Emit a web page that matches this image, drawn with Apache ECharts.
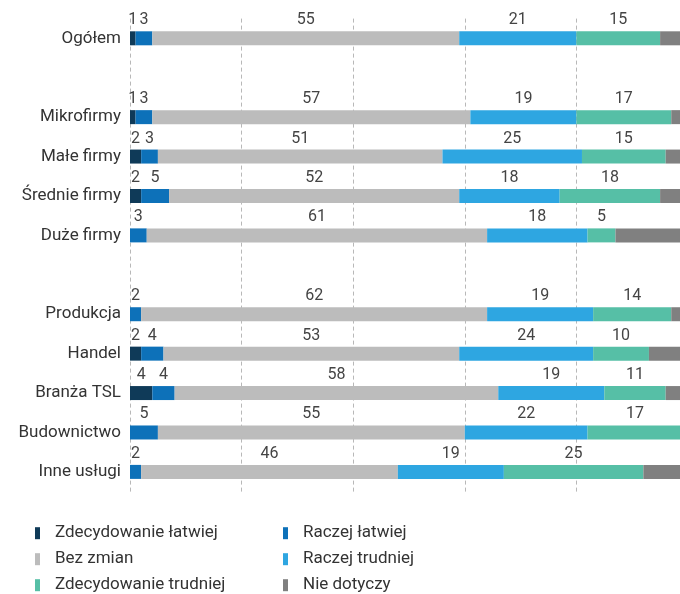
<!DOCTYPE html>
<html>
<head>
<meta charset="utf-8">
<script src="https://cdn.jsdelivr.net/npm/echarts@6/dist/echarts.min.js"></script>
<style>
html,body{margin:0;padding:0;background:#fff;}
#chart{width:680px;height:594px;}
</style>
</head>
<body>
<div id="chart"></div>
<script>
const categories = ['Ogółem', ' ', 'Mikrofirmy', 'Małe firmy', 'Średnie firmy', 'Duże firmy', '  ', 'Produkcja', 'Handel', 'Branża TSL', 'Budownictwo', 'Inne usługi'];
const seriesNames = ['Zdecydowanie łatwiej', 'Raczej łatwiej', 'Bez zmian', 'Raczej trudniej', 'Zdecydowanie trudniej', 'Nie dotyczy'];
const zdecydowanieLatwiej = [1, null, 1, 2, 2, 0, null, 0, 2, 4, 0, 0];
const raczejLatwiej      = [3, null, 3, 3, 5, 3, null, 2, 4, 4, 5, 2];
const bezZmian           = [55, null, 57, 51, 52, 61, null, 62, 53, 58, 55, 46];
const raczejTrudniej     = [21, null, 19, 25, 18, 18, null, 19, 24, 19, 22, 19];
const zdecydowanieTrudniej = [15, null, 17, 15, 18, 5, null, 14, 10, 11, 17, 25];
const nieDotyczy         = [5, null, 3, 4, 5, 13, null, 3, 7, 4, 1, 8];
const values = [zdecydowanieLatwiej, raczejLatwiej, bezZmian, raczejTrudniej, zdecydowanieTrudniej, nieDotyczy];
const colors = ['#0f3a58', '#0d71b9', '#bcbcbc', '#2ea6e1', '#56bfa6', '#808080'];

const chart = echarts.init(document.getElementById('chart'), null, {renderer: 'canvas'});
const font = 'Roboto';

const series = seriesNames.map((name, i) => ({
  name: name,
  type: 'bar',
  stack: 'total',
  barWidth: 14,
  itemStyle: {color: colors[i]},
  label: {
    show: i < 5,
    position: 'top',
    distance: 3,
    color: '#444',
    fontFamily: font,
    fontSize: 16,
    formatter: p => (p.value ? String(p.value) : '')
  },
  emphasis: {disabled: true},
  data: values[i].map(v => (v === 0 ? null : v))
}));

const legendText = {color: '#333', fontFamily: font, fontSize: 17, lineHeight: 15, padding: [0, 0, 0, 10]};

chart.setOption({
  animation: false,
  color: colors,
  grid: {left: 130, width: 558, top: 18.6, height: 473, containLabel: false, outerBoundsMode: 'none'},
  xAxis: {
    type: 'value', min: 0, max: 100, interval: 20,
    axisLabel: {show: false},
    axisLine: {show: false},
    axisTick: {show: false},
    splitLine: {show: true, lineStyle: {color: '#b8b8b8', type: [4, 3], width: 1}}
  },
  yAxis: {
    type: 'category', inverse: true, data: categories,
    axisLine: {show: false},
    axisTick: {show: false},
    axisLabel: {color: '#333', fontFamily: font, fontSize: 17, margin: 9}
  },
  legend: [
    {
      orient: 'vertical', left: 35, top: 524.7, height: 100, padding: 0,
      icon: 'rect', itemWidth: 5, itemHeight: 12, itemGap: 9,
      selectedMode: false,
      textStyle: legendText,
      data: [seriesNames[0], seriesNames[2], seriesNames[4]]
    },
    {
      orient: 'vertical', left: 283, top: 524.7, height: 100, padding: 0,
      icon: 'rect', itemWidth: 5, itemHeight: 12, itemGap: 9,
      selectedMode: false,
      textStyle: legendText,
      data: [seriesNames[1], seriesNames[3], seriesNames[5]]
    }
  ],
  series: series
});
</script>
</body>
</html>
